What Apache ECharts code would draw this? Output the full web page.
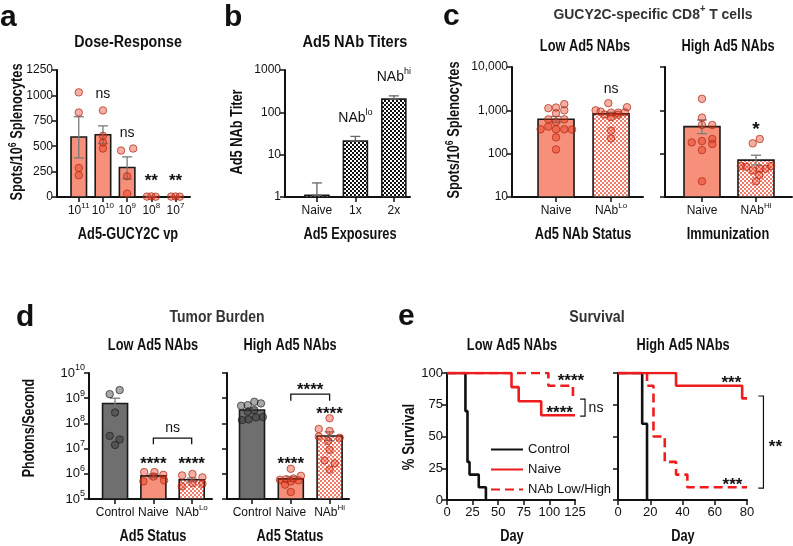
<!DOCTYPE html>
<html><head><meta charset="utf-8">
<script src="https://cdn.jsdelivr.net/npm/echarts@6.0.0/dist/echarts.min.js"></script>
<style>html,body{margin:0;padding:0;background:#fff;}#chart{width:793px;height:546px;}</style>
</head><body><div id="chart"></div>
<script>
// ================= DATA =================
// a: Dose-Response (Ad5-GUCY2C vp = 10^n)
const aDoseExp = ['11', '10', '9', '8', '7'];
const aMean = [590, 612, 290, 3, 3];
const aErrLow = [385, 525, 178, 1, 1];
const aErrHigh = [790, 700, 395, 5, 5];
// [group, jitter, value]
const aDots = [[0,0,1030],[0,0,832],[0,0,286],[0,0,214],
  [1,0,852],[1,0,602],[1,0,536],[1,0,477],
  [2,-0.25,457],[2,0.25,477],[2,0,204],[2,0,33],
  [3,-0.18,4],[3,0,6],[3,0.18,3],[4,-0.18,4],[4,0,5],[4,0.18,3]];

// b: Ad5 NAb titers
const bCats = ['Naive', '1x', '2x'];
const bMean = [1.1, 21, 205];
const bErrHigh = [2.15, 27, 245];

// c: GUCY2C-specific CD8+ T cells
const cLowCats = [['Naive', ''], ['NAb', 'Lo']];
const cLowMean = [622, 828];
const cLowErr = [[530, 720], [770, 900]];
const cLowDots = [[0,-0.14,1120],[0,0,1160],[0,0.15,1390],[0,0,860],[0,0.15,1000],[0,-0.14,620],[0,0,540],
  [0,0.15,620],[0,-0.28,365],[0,-0.14,420],[0,0,365],[0,0.15,365],[0,0.29,360],[0,0,238],[0,0,125],
  [1,-0.05,1460],[1,-0.28,1000],[1,-0.19,935],[1,0,885],[1,0.13,885],[1,0.25,900],[1,0.29,1180],
  [1,-0.12,800],[1,0,700],[1,0.13,790],[1,0,340],[1,0,225]];
const cHighCats = [['Naive', ''], ['NAb', 'Hi']];
const cHighMean = [421, 71];
const cHighErr = [[290, 600], [55, 92]];
const cHighDots = [[0,0,1845],[0,0,680],[0,0,460],[0,0.19,460],[0,0.19,218],[0,-0.19,182],[0,0,195],
  [0,0.19,167],[0,0,121],[0,0,23],
  [1,0.07,218],[1,-0.06,173],[1,-0.28,52],[1,-0.18,50],[1,-0.06,41],[1,0.07,45],[1,0.18,45],
  [1,0.28,52],[1,0.06,32],[1,0,23]];

// d: Tumor burden (photons/second)
const dLowCats = [['Control', ''], ['Naive', ''], ['NAb', 'Lo']];
const dLowMean = [6.2e8, 8.3e5, 5.8e5];
const dLowErr = [[2.7e8, 1.0e9], [7.0e5, 9.8e5], [4.8e5, 6.8e5]];
const dLowDots = [[0,-0.14,1.45e9],[0,0.12,2.1e9],[0,0,2.7e8],[0,-0.14,3.2e7],[0,0.12,2.3e7],[0,0,1.4e7],
  [1,-0.24,1.17e6],[1,0.03,1.17e6],[1,0.26,9.1e5],[1,-0.26,5.0e5],[1,0,7.8e5],[1,0.28,5.5e5],
  [2,-0.25,8.6e5],[2,0.02,9.8e5],[2,0.28,7.2e5],[2,-0.26,3.2e5],[2,0.02,4.3e5],[2,0.28,4.0e5]];
const dHighCats = [['Control', ''], ['Naive', ''], ['NAb', 'Hi']];
const dHighMean = [3.4e8, 6.3e5, 3.16e7];
const dHighErr = [[2.8e8, 4.1e8], [5.0e5, 7.6e5], [2.1e7, 4.6e7]];
const dHighDots = [[0,-0.28,5.0e8],[0,-0.11,5.3e8],[0,0.06,7.2e8],[0,0.23,6.2e8],[0,-0.11,2.9e8],[0,0.06,3.4e8],
  [0,-0.26,1.35e8],[0,-0.09,1.44e8],[0,0.1,1.73e8],[0,0.28,1.8e8],
  [1,0,1.58e6],[1,-0.28,5.8e5],[1,-0.12,6.1e5],[1,0.07,6.5e5],[1,0.26,8.3e5],[1,0.2,5.5e5],[1,-0.15,3.7e5],
  [1,0,1.9e5],[1,0,5.0e5],
  [2,0,1.6e8],[2,-0.28,6e7],[2,0,5e7],[2,0.26,2.7e7],[2,-0.04,2e7],[2,0,8.9e6],[2,-0.13,3.4e6],
  [2,0.13,2.6e6],[2,0,1.45e6],[2,-0.28,3e7]];

// e: Survival (day, % survival)
const eLowControl = [[0,100],[18,70],[20,30],[22,20],[31,10],[38,0]];
const eLowNaive = [[0,100],[63,88.9],[70,77.8],[92,66.7],[125,66.7]];
const eLowNAb = [[0,100],[99,90],[123,80],[125,80]];
const eHighControl = [[0,100],[15,60],[18,0]];
const eHighNaive = [[0,100],[36,90],[77,80],[80,80]];
const eHighNAb = [[0,100],[18,90],[22,50],[29,30],[36,20],[43,10],[80,10]];

// ================= STYLE =================
const FN = "'Liberation Sans',Arial,sans-serif";
const INK = '#111';
const SALMON = '#F6907B';
const GRAYBAR = '#6f6f6f';
const RED = '#EE1C1C';

function patternCanvas(c1, c2, s) {
  const cv = document.createElement('canvas');
  cv.width = cv.height = 2 * s;
  const g = cv.getContext('2d');
  g.fillStyle = c2; g.fillRect(0, 0, 2 * s, 2 * s);
  g.fillStyle = c1; g.fillRect(0, 0, s, s); g.fillRect(s, s, s, s);
  return cv;
}
const CHECK = { image: patternCanvas('#111', '#fff', 2), repeat: 'repeat' };
const PINK = { image: patternCanvas('#F27A69', '#fff', 2), repeat: 'repeat' };

function richFor(size, color) {
  const c = color || INK;
  const ss = Math.round(size * 0.66);
  return {
    b: { fontSize: size, fontFamily: FN, color: c, lineHeight: size + 6 },
    s: { fontSize: ss, fontFamily: FN, color: c, verticalAlign: 'top', lineHeight: ss + 1 },
    bb: { fontSize: size, fontFamily: FN, fontWeight: 'bold', color: c, lineHeight: size + 6 },
    bs: { fontSize: ss, fontFamily: FN, fontWeight: 'bold', color: c, verticalAlign: 'top', lineHeight: ss + 1 }
  };
}
const sup = (base, s) => s ? `{b|${base}}{s|${s}}` : `{b|${base}}`;

const grids = [
  { left: 57, top: 70, width: 133, height: 127 },   // a
  { left: 285, top: 70, width: 125, height: 127 },  // b
  { left: 512, top: 67, width: 131, height: 130 },  // c low
  { left: 665, top: 67, width: 127, height: 130 },  // c high
  { left: 89, top: 373, width: 123, height: 126 },  // d low
  { left: 227, top: 373, width: 122, height: 126 }, // d high
  { left: 447, top: 373, width: 128, height: 127 }, // e low
  { left: 618, top: 373, width: 129, height: 127 }  // e high
];

const lineAx = { onZero: false, lineStyle: { color: INK, width: 2 } };
const tickAx = { show: true, length: 5, lineStyle: { color: INK, width: 1.5 } };
const TICKFS = 12;

function xCat(gi, min, max, labels) {
  const vals = labels.map((_, i) => i);
  return {
    type: 'value', gridIndex: gi, min, max,
    axisLine: lineAx,
    axisTick: Object.assign({ customValues: vals }, tickAx),
    axisLabel: { customValues: vals, formatter: v => labels[Math.round(v)] || '', margin: 5, hideOverlap: false,
      rich: richFor(TICKFS), color: INK, fontSize: TICKFS, fontFamily: FN },
    splitLine: { show: false }
  };
}
function xNum(gi, max, interval) {
  return {
    type: 'value', gridIndex: gi, min: 0, max, interval,
    axisLine: lineAx, axisTick: tickAx,
    axisLabel: { fontFamily: FN, fontSize: 13, color: INK, margin: 6, hideOverlap: false },
    splitLine: { show: false }
  };
}
function yAx(gi, extra, labelExtra) {
  return Object.assign({
    gridIndex: gi, axisLine: lineAx, axisTick: tickAx,
    axisLabel: Object.assign({ fontFamily: FN, fontSize: TICKFS, color: INK, margin: 4, rich: richFor(TICKFS), hideOverlap: false }, labelExtra || {}),
    splitLine: { show: false }
  }, extra);
}

const xAxes = [
  xCat(0, -0.9, 4.6, aDoseExp.map(e => sup('10', e))),
  xCat(1, -0.83, 2.42, bCats.map(c => sup(c, ''))),
  xCat(2, -0.8, 1.58, cLowCats.map(c => sup(c[0], c[1]))),
  xCat(3, -0.685, 1.667, cHighCats.map(c => sup(c[0], c[1]))),
  xCat(4, -0.68, 2.53, dLowCats.map(c => sup(c[0], c[1]))),
  xCat(5, -0.645, 2.5, dHighCats.map(c => sup(c[0], c[1]))),
  xNum(6, 125, 25),
  xNum(7, 80, 20)
];
const logLabel = v => sup('10', String(Math.round(Math.log10(v))));
const yAxes = [
  yAx(0, { type: 'value', min: 0, max: 1250, interval: 250 }, { formatter: v => String(v) }),
  yAx(1, { type: 'log', logBase: 10, min: 1, max: 1000 }, { formatter: v => String(Math.round(v)) }),
  yAx(2, { type: 'log', logBase: 10, min: 10, max: 10000 }, { formatter: v => Math.round(v).toLocaleString('en-US') }),
  yAx(3, { type: 'log', logBase: 10, min: 10, max: 10000 }, { show: false }),
  yAx(4, { type: 'log', logBase: 10, min: 1e5, max: 1e10, interval: 1 }, { formatter: logLabel, rich: richFor(13) }),
  yAx(5, { type: 'log', logBase: 10, min: 1e5, max: 1e10, interval: 1 }, { show: false }),
  yAx(6, { type: 'value', min: 0, max: 100, interval: 25 }, { formatter: v => String(v), fontSize: 13 }),
  yAx(7, { type: 'value', min: 0, max: 100, interval: 25 }, { show: false })
];

// ================= SERIES HELPERS =================
const series = [];
function bars(gi, means, base, width, fills) {
  series.push({
    type: 'custom', xAxisIndex: gi, yAxisIndex: gi, z: 2, silent: true,
    data: means.map((v, i) => [i, v]),
    renderItem(p, api) {
      const top = api.coord([api.value(0), api.value(1)]);
      const bot = api.coord([api.value(0), base]);
      return { type: 'rect', shape: { x: top[0] - width / 2, y: top[1], width, height: bot[1] - top[1] },
        style: { fill: fills[p.dataIndex], stroke: '#1a1a1a', lineWidth: 1.6 } };
    }
  });
}
function errs(gi, lows, highs, color) {
  series.push({
    type: 'custom', xAxisIndex: gi, yAxisIndex: gi, z: 3, silent: true,
    data: lows.map((v, i) => [i, v, highs[i]]),
    renderItem(p, api) {
      const lo = api.coord([api.value(0), api.value(1)]);
      const hi = api.coord([api.value(0), api.value(2)]);
      const st = { stroke: color || '#7a7a7a', lineWidth: 1.3 };
      return { type: 'group', children: [
        { type: 'line', shape: { x1: lo[0], y1: lo[1], x2: hi[0], y2: hi[1] }, style: st },
        { type: 'line', shape: { x1: hi[0] - 5, y1: hi[1], x2: hi[0] + 5, y2: hi[1] }, style: st },
        { type: 'line', shape: { x1: lo[0] - 5, y1: lo[1], x2: lo[0] + 5, y2: lo[1] }, style: st }
      ] };
    }
  });
}
const RED_DOT = { color: 'rgba(228,45,15,0.48)', borderColor: 'rgba(175,40,20,0.9)', borderWidth: 1 };
const GRAY_DOT = { color: 'rgba(40,40,40,0.5)', borderColor: 'rgba(30,30,30,0.85)', borderWidth: 1 };
function dots(gi, list, grayGroup) {
  series.push({
    type: 'scatter', xAxisIndex: gi, yAxisIndex: gi, z: 4, silent: true, symbolSize: 7.5,
    data: list.map(d => ({ value: [d[0] + d[1], d[2]], itemStyle: d[0] === grayGroup ? GRAY_DOT : RED_DOT }))
  });
}
// annotations: [x, y, text, dy, font]
function notes(gi, items, font) {
  series.push({
    type: 'custom', xAxisIndex: gi, yAxisIndex: gi, z: 6, silent: true, clip: false,
    data: items.map(t => [t[0], t[1]]),
    renderItem(p, api) {
      const t = items[p.dataIndex];
      const pt = api.coord([api.value(0), api.value(1)]);
      return { type: 'text', x: pt[0], y: pt[1] + (t[3] || 0),
        style: { text: t[2], font: t[4] || font, fill: INK, align: 'center', verticalAlign: 'middle', rich: richFor(14) } };
    }
  });
}
// horizontal bracket [x1, x2, yBar, yLeg]
function hBrackets(gi, items) {
  series.push({
    type: 'custom', xAxisIndex: gi, yAxisIndex: gi, z: 6, silent: true, clip: false,
    data: items,
    renderItem(p, api) {
      const a = api.coord([api.value(0), api.value(3)]), b = api.coord([api.value(0), api.value(2)]);
      const c = api.coord([api.value(1), api.value(2)]), d = api.coord([api.value(1), api.value(3)]);
      return { type: 'polyline', shape: { points: [a, b, c, d] }, style: { stroke: INK, lineWidth: 1.3, fill: null } };
    }
  });
}
// vertical bracket [xArm, xLine, y1, y2]
function vBrackets(gi, items) {
  series.push({
    type: 'custom', xAxisIndex: gi, yAxisIndex: gi, z: 6, silent: true, clip: false,
    data: items,
    renderItem(p, api) {
      const a = api.coord([api.value(0), api.value(2)]), b = api.coord([api.value(1), api.value(2)]);
      const c = api.coord([api.value(1), api.value(3)]), d = api.coord([api.value(0), api.value(3)]);
      return { type: 'polyline', shape: { points: [a, b, c, d] }, style: { stroke: INK, lineWidth: 1.2, fill: null } };
    }
  });
}
function curve(gi, name, data, color, dashed) {
  series.push({
    type: 'line', name, xAxisIndex: gi, yAxisIndex: gi, step: 'end', data, z: dashed ? 5 : 4,
    symbol: 'none', silent: true,
    itemStyle: { color },
    lineStyle: { color, width: 2.6, type: dashed ? [9, 5] : 'solid' }
  });
}

const STAR = "bold 17px " + FN;
const NS = "14px " + FN;

// a
bars(0, aMean, 0, 15.5, aMean.map(() => SALMON));
errs(0, aErrLow, aErrHigh);
dots(0, aDots, -1);
notes(0, [[1, 1010, 'ns', 0, NS], [2, 627, 'ns', 0, NS], [3, 194, '**', 4], [4, 194, '**', 4]], STAR);
// b
bars(1, bMean, 1, 24, [CHECK, CHECK, CHECK]);
errs(1, bMean, bErrHigh, '#666');
notes(1, [[1, 74, sup('NAb', 'lo')], [2, 690, sup('NAb', 'hi')]], "14px " + FN);
// c
bars(2, cLowMean, 10, 36, [SALMON, PINK]);
errs(2, cLowErr.map(e => e[0]), cLowErr.map(e => e[1]));
dots(2, cLowDots, -1);
notes(2, [[1, 3100, 'ns', 0, NS]], STAR);
bars(3, cHighMean, 10, 36, [SALMON, PINK]);
errs(3, cHighErr.map(e => e[0]), cHighErr.map(e => e[1]));
dots(3, cHighDots, -1);
notes(3, [[1, 460, '*', 5]], "bold 19px " + FN);
// d
bars(4, dLowMean, 1e5, 25, [GRAYBAR, SALMON, PINK]);
errs(4, dLowErr.map(e => e[0]), dLowErr.map(e => e[1]));
dots(4, dLowDots, 0);
notes(4, [[1, 3.8e6, '****', 5], [2, 3.8e6, '****', 5], [1.5, 6.5e7, 'ns', 0, NS]], STAR);
hBrackets(4, [[1, 2, 2.6e7, 1.5e7]]);
bars(5, dHighMean, 1e5, 25, [GRAYBAR, SALMON, PINK]);
errs(5, dHighErr.map(e => e[0]), dHighErr.map(e => e[1]));
dots(5, dHighDots, 0);
notes(5, [[1, 3.8e6, '****', 5], [2, 3.7e8, '****', 5], [1.5, 3.3e9, '****', 5]], STAR);
hBrackets(5, [[1, 2, 1.45e9, 7.9e8]]);
// e
curve(6, 'Control', eLowControl, '#111', false);
curve(6, 'Naive', eLowNaive, RED, false);
curve(6, 'NAb Low/High', eLowNAb, RED, true);
notes(6, [[121, 97, '****', 5], [110, 72.4, '****', 5], [145.5, 72.4, 'ns', 0, NS]], STAR);
vBrackets(6, [[130, 134.8, 79.5, 66]]);
curve(7, 'Control', eHighControl, '#111', false);
curve(7, 'Naive', eHighNaive, RED, false);
curve(7, 'NAb Low/High', eHighNAb, RED, true);
notes(7, [[70.3, 96, '***', 5], [71, 15.7, '***', 5], [97.6, 45.7, '**', 5]], STAR);
vBrackets(7, [[87, 90.2, 81.9, 9.4]]);

// ================= TEXT =================
const graphics = [];
function txt(x, y, text, font, opt) {
  opt = opt || {};
  graphics.push({ type: 'text', x, y, silent: true, scaleX: opt.sx || 1, rotation: opt.rot || 0,
    style: { text, font, fill: opt.fill || INK, align: opt.align || 'center', verticalAlign: 'middle',
      textAlign: opt.align || 'center', textVerticalAlign: 'middle', rich: opt.rich } });
}
const LET = "bold 30px " + FN;
txt(0, 18, 'a', LET, { align: 'left' });
txt(224, 18, 'b', LET, { align: 'left' });
txt(443, 17, 'c', LET, { align: 'left' });
txt(16, 318, 'd', LET, { align: 'left' });
txt(398, 317, 'e', LET, { align: 'left' });
const TT = "bold 16px " + FN;
const ST = { sx: 0.8 };
txt(128, 43, 'Dose-Response', TT, { sx: 0.89 });
txt(355, 43, 'Ad5 NAb Titers', TT, { sx: 0.91 });
txt(653, 15, '{bb|GUCY2C-specific CD8}{bs|+}{bb| T cells}', "bold 15px " + FN, { sx: 0.93, fill: '#333', rich: richFor(15, '#333') });
txt(585, 47, 'Low Ad5 NAbs', TT, ST);
txt(728, 47, 'High Ad5 NAbs', TT, ST);
txt(217, 318, 'Tumor Burden', TT, { sx: 0.87, fill: '#333' });
txt(153, 346, 'Low Ad5 NAbs', TT, ST);
txt(290, 346, 'High Ad5 NAbs', TT, ST);
txt(597, 318, 'Survival', TT, { sx: 0.89, fill: '#333' });
txt(512, 346, 'Low Ad5 NAbs', TT, ST);
txt(683, 346, 'High Ad5 NAbs', TT, ST);
// axis titles
const AX = "bold 16px " + FN;
const R90 = Math.PI / 2;
txt(18, 132, '{bb|Spots/10}{bs|6}{bb| Splenocytes}', AX, { sx: 0.8, rot: R90, rich: richFor(16) });
txt(238, 132, 'Ad5 NAb Titer', AX, { sx: 0.8, rot: R90 });
txt(455, 130, '{bb|Spots/10}{bs|6}{bb| Splenocytes}', AX, { sx: 0.8, rot: R90, rich: richFor(16) });
txt(30, 428, 'Photons/Second', AX, { sx: 0.78, rot: R90 });
txt(410, 437, '% Survival', AX, { sx: 0.82, rot: R90 });
txt(128, 235, 'Ad5-GUCY2C vp', AX, ST);
txt(350, 235, 'Ad5 Exposures', AX, ST);
txt(583, 235, 'Ad5 NAb Status', AX, ST);
txt(728, 235, 'Immunization', AX, ST);
txt(153, 537, 'Ad5 Status', AX, ST);
txt(290, 537, 'Ad5 Status', AX, ST);
txt(512, 537, 'Day', AX, ST);
txt(683, 537, 'Day', AX, ST);

const option = {
  backgroundColor: '#fff',
  animation: false,
  grid: grids,
  xAxis: xAxes,
  yAxis: yAxes,
  series,
  graphic: graphics,
  legend: {
    show: true, orient: 'vertical', left: 485, top: 438, itemWidth: 32, itemHeight: 14, itemGap: 7,
    padding: 5, selectedMode: false,
    itemStyle: { opacity: 0 },
    data: ['Control', 'Naive', 'NAb Low/High'],
    textStyle: { fontFamily: FN, fontSize: 13, color: INK }
  }
};
const chart = echarts.init(document.getElementById('chart'), null, { renderer: 'canvas' });
chart.setOption(option);
</script></body></html>
